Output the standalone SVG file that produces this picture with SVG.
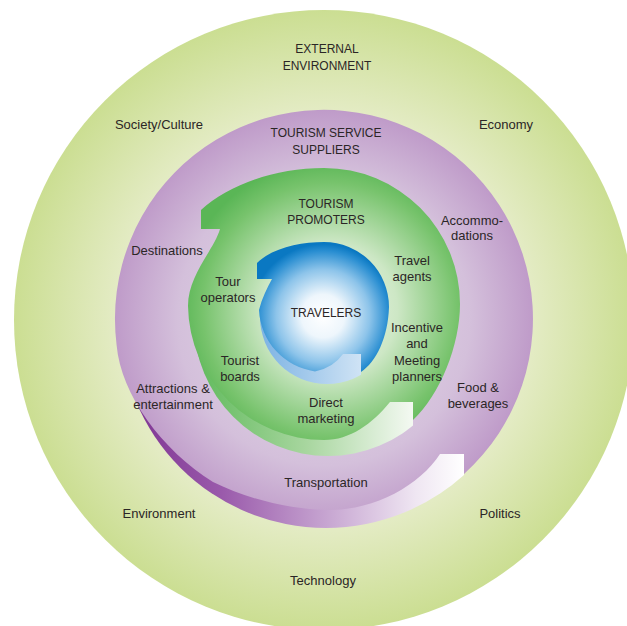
<svg xmlns="http://www.w3.org/2000/svg" width="627" height="626" viewBox="0 0 627 626">
<style>
text{font-family:"Liberation Sans",Arial,sans-serif;fill:#2b2626;text-anchor:middle;font-size:13px}
.cap{font-size:12px}
</style>
<defs>
<radialGradient id="gOuter" gradientUnits="userSpaceOnUse" cx="324" cy="320" r="310">
<stop offset="0" stop-color="#eef3d8"/><stop offset="0.68" stop-color="#e3ebc3"/><stop offset="1" stop-color="#cbde92"/>
</radialGradient>
<radialGradient id="gPurple" gradientUnits="userSpaceOnUse" cx="324" cy="319" r="209">
<stop offset="0" stop-color="#e8dcec"/><stop offset="0.7" stop-color="#d4c0db"/><stop offset="1" stop-color="#bf9bc9"/>
</radialGradient>
<linearGradient id="gPurpleRib" gradientUnits="userSpaceOnUse" x1="118" y1="0" x2="464" y2="0">
<stop offset="0" stop-color="#7a2f8f"/><stop offset="0.3" stop-color="#9a5aab"/><stop offset="0.62" stop-color="#c9a9d3"/><stop offset="0.86" stop-color="#efe6f2"/><stop offset="1" stop-color="#ffffff"/>
</linearGradient>
<radialGradient id="gGreen" gradientUnits="userSpaceOnUse" cx="330" cy="310" r="150">
<stop offset="0" stop-color="#f2f9ef"/><stop offset="0.45" stop-color="#cde7c5"/><stop offset="0.85" stop-color="#77c36c"/><stop offset="1" stop-color="#5ab656"/>
</radialGradient>
<linearGradient id="gGreenRib" gradientUnits="userSpaceOnUse" x1="200" y1="0" x2="413" y2="0">
<stop offset="0" stop-color="#63bb5f"/><stop offset="0.5" stop-color="#a8d69f"/><stop offset="1" stop-color="#f4f9f2"/>
</linearGradient>
<radialGradient id="gBlue" gradientUnits="userSpaceOnUse" cx="323" cy="316" r="72">
<stop offset="0" stop-color="#ffffff"/><stop offset="0.3" stop-color="#eef6fc"/><stop offset="0.65" stop-color="#8dc4ea"/><stop offset="0.9" stop-color="#2b8fd2"/><stop offset="1" stop-color="#0a78c2"/>
</radialGradient>
<linearGradient id="gBlueRib" gradientUnits="userSpaceOnUse" x1="260" y1="0" x2="361" y2="0">
<stop offset="0" stop-color="#7db3e3"/><stop offset="1" stop-color="#cfe3f5"/>
</linearGradient>
<clipPath id="cPurple"><rect x="0" y="300" width="464" height="326"/></clipPath>
<clipPath id="cGreen"><rect x="0" y="330" width="413" height="296"/></clipPath>
<clipPath id="cBlue"><rect x="0" y="310" width="361" height="316"/></clipPath>
</defs>
<rect width="627" height="626" fill="#ffffff"/>
<g id="external-environment">
<circle cx="324" cy="320" r="310" fill="url(#gOuter)"/>
<text class="cap" x="327" y="53">EXTERNAL</text>
<text class="cap" x="327" y="70">ENVIRONMENT</text>
<text x="159" y="129">Society/Culture</text>
<text x="506" y="129">Economy</text>
<text x="159" y="518">Environment</text>
<text x="500" y="518">Politics</text>
<text x="323" y="585">Technology</text>
</g>
<g id="tourism-service-suppliers">
<circle cx="326" cy="322" r="206" fill="url(#gPurpleRib)" clip-path="url(#cPurple)"/>
<path d="M464 474 A209 209 0 1 0 116.6 345 C121 395 162 450 213 482 C245 498 290 510 330 510 C375 510 420 485 440 454 L464 454 Z" fill="url(#gPurple)"/>
<text class="cap" x="326" y="137">TOURISM SERVICE</text>
<text class="cap" x="326" y="154">SUPPLIERS</text>
<text x="472" y="225">Accommo-</text>
<text x="472" y="240">dations</text>
<text x="167" y="255">Destinations</text>
<text x="478" y="392">Food &amp;</text>
<text x="478" y="408">beverages</text>
<text x="173" y="393">Attractions &amp;</text>
<text x="173" y="409">entertainment</text>
<text x="326" y="487">Transportation</text>
</g>
<g id="tourism-promoters">
<circle cx="328" cy="322" r="134" fill="url(#gGreenRib)" clip-path="url(#cGreen)"/>
<path d="M220 229 C214 250 188 275 188 306 A136 136 0 0 0 324 440 C350 440 372 424 390 402 L413 402 L413 420 C440 395 460 345 460 304 A136 136 0 0 0 324 168 C275 168 228 185 201 210 L201 229 Z" fill="url(#gGreen)"/>
<text class="cap" x="326" y="208">TOURISM</text>
<text class="cap" x="326" y="224">PROMOTERS</text>
<text x="412" y="265">Travel</text>
<text x="412" y="281">agents</text>
<text x="228" y="286">Tour</text>
<text x="228" y="302">operators</text>
<text x="417" y="332">Incentive</text>
<text x="417" y="348">and</text>
<text x="417" y="365">Meeting</text>
<text x="417" y="381">planners</text>
<text x="240" y="365">Tourist</text>
<text x="240" y="381">boards</text>
<text x="326" y="407">Direct</text>
<text x="326" y="423">marketing</text>
</g>
<g id="travelers">
<circle cx="327" cy="317" r="67" fill="url(#gBlueRib)" clip-path="url(#cBlue)"/>
<path d="M272 279 C267 288 262 298 259 310 A65 65 0 0 0 315 371.4 Q333 368 343 354 L361 354 L361 372 C376 362 388 338 389 307 A65 65 0 0 0 324 242 C300 242 272 248 257 263 L257 279 Z" fill="url(#gBlue)"/>
<text class="cap" x="326" y="317">TRAVELERS</text>
</g>
<g id="connectors"/>
</svg>
